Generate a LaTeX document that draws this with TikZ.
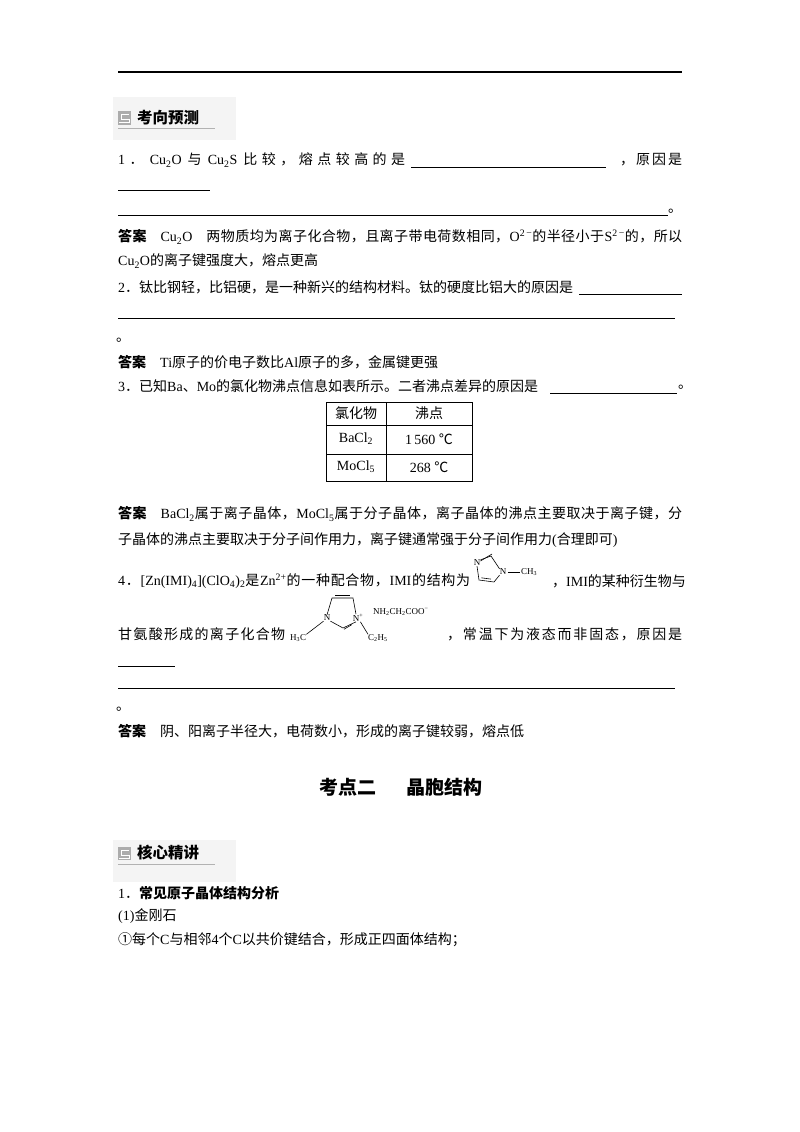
\documentclass[tikz,border=0pt]{standalone}
\usepackage{fontspec}
\usetikzlibrary{calc}
\setmainfont{Liberation Serif}
\newfontfamily\latinfont{Liberation Serif}
\newfontfamily\cjkfont{Noto Sans CJK SC}
\XeTeXinterchartokenstate=1
\newXeTeXintercharclass\cjkc
\count255="2E80
\loop\XeTeXcharclass\count255=\cjkc\advance\count255 1 \ifnum\count255<"A000 \repeat
\count255="FF00
\loop\XeTeXcharclass\count255=\cjkc\advance\count255 1 \ifnum\count255<"FFF0 \repeat
\count255="2460
\loop\XeTeXcharclass\count255=\cjkc\advance\count255 1 \ifnum\count255<"2474 \repeat
\XeTeXcharclass"2103=\cjkc
\XeTeXinterchartoks 0 \cjkc = {\hskip0pt plus 3pt\cjkfont}
\XeTeXinterchartoks 4095 \cjkc = {\cjkfont}
\XeTeXinterchartoks \cjkc 0 = {\latinfont\hskip0pt plus 3pt}
\XeTeXinterchartoks \cjkc 4095 = {\latinfont}
\XeTeXinterchartoks \cjkc \cjkc = {\hskip0pt plus 3pt}
\newcommand\sbs[1]{\textsubscript{#1}}
\newcommand\sps[1]{\textsuperscript{#1}}
\newcommand\jl[2]{\makebox[#1pt][s]{#2}}
\begin{document}
\begin{tikzpicture}[x=1pt,y=-1pt,
  t/.style={anchor=west,inner sep=0pt,font=\fontsize{14}{17}\selectfont},
  sm/.style={inner sep=0pt,font=\fontsize{9}{10}\selectfont},
  rule/.style={line width=0.6pt},
  bond/.style={line width=0.6pt},
  hdr/.style={anchor=west,inner sep=0pt,font=\fontsize{15.5}{18}\selectfont\bfseries}]
\useasboundingbox (0,0) rectangle (800,1132);
\fill[white] (0,0) rectangle (800,1132);
\draw[line width=1.3pt] (118,72) -- (682,72);
% header 1
\fill[gray!9] (113,97) rectangle (236,140);
\fill[gray!65] (118,111) rectangle (131,125);
\draw[white,line width=1pt] (129,114) -- (121,114) -- (121,119) -- (129,119) -- (129,122) -- (119,122);
\draw[gray!60,line width=0.8pt] (118,128) -- (215,128);
\node[hdr] (h1) at (137,118) {考向预测};
% Q1
\node[t] (q1a) at (118,160) {\jl{287}{1． Cu\sbs{2}O 与 Cu\sbs{2}S 比较，熔点较高的是}};
\draw[rule] (411,167) -- (606,167);
\node[t] (q1b) at (620,160) {\jl{62}{，原因是}};
\draw[rule] (118,190) -- (210,190);
\draw[rule] (118,215) -- (668,215);
\node[t] (q1c) at (668,211) {。};
\node[t] (a1a) at (118,237) {\jl{564}{\textbf{答案}\quad Cu\sbs{2}O\quad 两物质均为离子化合物，且离子带电荷数相同，O\sps{2\,−}的半径小于S\sps{2\,−}的，所以}};
\node[t] (a1b) at (118,261) {Cu\sbs{2}O的离子键强度大，熔点更高};
% Q2
\node[t] (q2a) at (118,287) {2．钛比钢轻，比铝硬，是一种新兴的结构材料。钛的硬度比铝大的原因是};
\draw[rule] (579,294) -- (682,294);
\draw[rule] (118,318) -- (675,318);
\node[t] (q2b) at (116,340) {。};
\node[t] (a2) at (118,362) {\textbf{答案}\quad Ti原子的价电子数比Al原子的多，金属键更强};
% Q3
\node[t] (q3) at (118,386) {3．已知Ba、Mo的氯化物沸点信息如表所示。二者沸点差异的原因是};
\draw[rule] (550,393) -- (677,393);
\node[t] (q3e) at (678,387) {。};
% table
\draw[line width=0.7pt] (326,402) rectangle (472,481);
\draw[line width=0.7pt] (386,402) -- (386,481) (326,425) -- (472,425) (326,454) -- (472,454);
\node[t,anchor=center] (c11) at (356,413) {氯化物};
\node[t,anchor=center] (c12) at (429,413) {沸点};
\node[t,anchor=center] (c21) at (356,439) {BaCl\sbs{2}};
\node[t,anchor=center] (c22) at (429,439) {1\,560 ℃};
\node[t,anchor=center] (c31) at (356,467) {MoCl\sbs{5}};
\node[t,anchor=center] (c32) at (429,467) {268 ℃};
\node[t] (a3a) at (118,514) {\jl{564}{\textbf{答案}\quad BaCl\sbs{2}属于离子晶体，MoCl\sbs{5}属于分子晶体，离子晶体的沸点主要取决于离子键，分}};
\node[t] (a3b) at (118,540) {子晶体的沸点主要取决于分子间作用力，离子键通常强于分子间作用力(合理即可)};
% Q4
\node[t] (q4a) at (118,581) {\jl{352}{4．[Zn(IMI)\sbs{4}](ClO\sbs{4})\sbs{2}是Zn\sps{2+}的一种配合物，IMI的结构为}};
\node[sm] (n3) at (477,563) {N};
\node[sm] (n1) at (503,572) {N};
\coordinate (c2) at (491,556);
\coordinate (c5) at (494,582);
\coordinate (c4) at (479,580);
\draw[bond] (n3.north east) -- (c2) -- (n1.north west);
\draw[bond] ([yshift=2pt]n3.east) -- ([xshift=1pt,yshift=2pt]c2);
\draw[bond] (n1.south west) -- (c5) -- (c4) -- (n3.south);
\draw[bond] ($(c5)!0.2!(c4)+(0,-2.5)$) -- ($(c5)!0.85!(c4)+(0,-2.5)$);
\draw[bond] (n1.east) ++(1.5,0) -- ++(12,0);
\node[sm,anchor=west] (ch3) at (521,572) {CH\sbs{3}};
\node[t] (q4b) at (552,581) {\jl{130}{，IMI的某种衍生物与}};
\node[t] (q4c) at (118,634) {\jl{167}{甘氨酸形成的离子化合物}};
\node[sm] (bn) at (327,618) {N};
\node[sm] (bnp) at (358,618) {N\sps{+}};
\coordinate (tl) at (332,598);
\coordinate (tr) at (353,598);
\coordinate (bc) at (343,628);
\draw[bond] (bn.north) -- (tl) -- (tr) -- ([xshift=-2pt]bnp.north);
\draw[bond] ([yshift=3pt]$(tl)!0.15!(tr)$) -- ([yshift=3pt]$(tl)!0.85!(tr)$);
\draw[bond] ([xshift=-2pt]bnp.south) -- (bc) -- (bn.south east);
\draw[bond] ([xshift=-3pt,yshift=-1.5pt]$(bnp.south)!0.2!(bc)$) -- ([xshift=-2pt,yshift=-2.5pt]$(bnp.south)!0.8!(bc)$);
\node[sm,anchor=west] (h3c) at (290,638) {H\sbs{3}C};
\draw[bond] (h3c.north east) -- (bn.south west);
\node[sm,anchor=west] (c2h5) at (368,638) {C\sbs{2}H\sbs{5}};
\draw[bond] ([xshift=-3pt]bnp.south east) -- (c2h5.north west);
\node[sm,anchor=west] (gly) at (373,612) {NH\sbs{2}CH\sbs{2}COO\sps{−}};
\node[t] (q4d) at (447,634) {\jl{235}{，常温下为液态而非固态，原因是}};
\draw[rule] (118,666) -- (175,666);
\draw[rule] (118,688) -- (675,688);
\node[t] (q4e) at (116,709) {。};
\node[t] (a4) at (118,731) {\textbf{答案}\quad 阴、阳离子半径大，电荷数小，形成的离子键较弱，熔点低};
% section title
\node[anchor=center,inner sep=0pt,font=\fontsize{19}{22}\selectfont\bfseries] (sec) at (401,787) {考点二\hspace{1.6em}晶胞结构};
% header 2
\fill[gray!9] (113,840) rectangle (236,882);
\fill[gray!65] (118,847) rectangle (131,860);
\draw[white,line width=1pt] (129,850) -- (121,850) -- (121,855) -- (129,855) -- (129,858) -- (119,858);
\draw[gray!60,line width=0.8pt] (118,864) -- (215,864);
\node[hdr] (h2) at (137,853) {核心精讲};
\node[t] (s1) at (118,893) {1．\textbf{常见原子晶体结构分析}};
\node[t] (s2) at (118,916) {(1)金刚石};
\node[t] (s3) at (118,940) {①每个C与相邻4个C以共价键结合，形成正四面体结构；};
\end{tikzpicture}
\end{document}
